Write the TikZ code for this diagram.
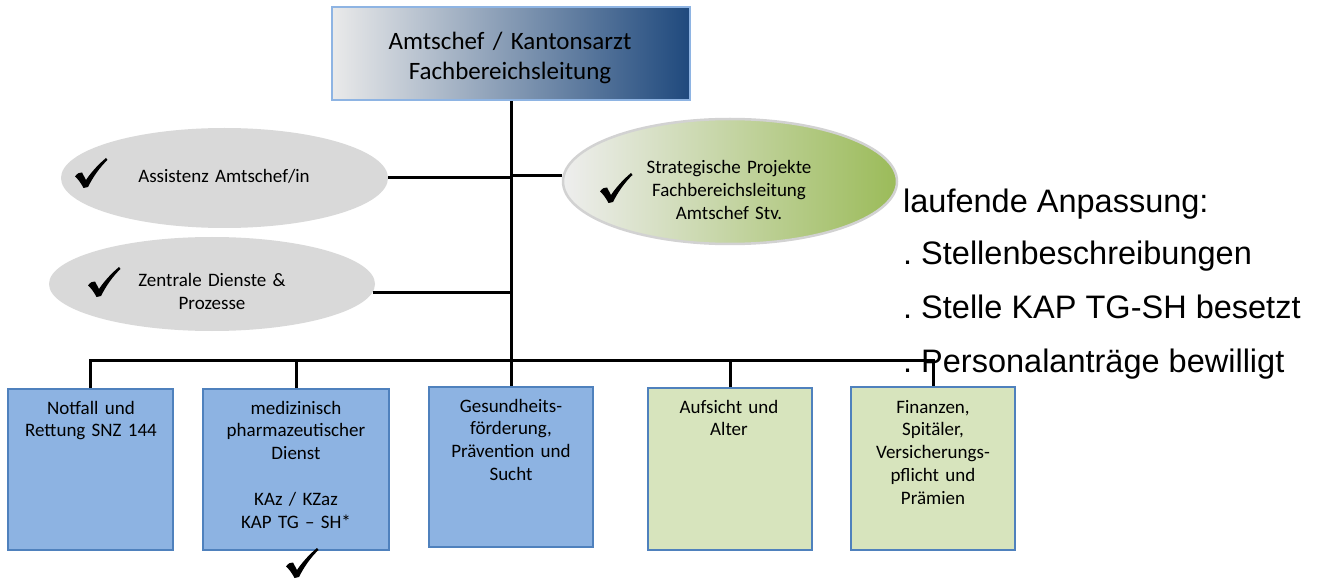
\documentclass[tikz,border=0pt]{standalone}
\usepackage{fontspec}
\setmainfont{Carlito}
\newfontfamily\arialf{Liberation Sans}
\usetikzlibrary{shapes.geometric}
\frenchspacing
\definecolor{boxblue}{RGB}{141,179,226}
\definecolor{boxborder}{RGB}{79,129,189}
\definecolor{boxgreen}{RGB}{215,228,189}
\definecolor{ellgrey}{RGB}{217,217,217}
\definecolor{topdark}{RGB}{31,73,125}
\definecolor{topmid}{RGB}{170,180,196}
\definecolor{toplight}{RGB}{234,234,234}
\definecolor{topborder}{RGB}{142,180,227}
\definecolor{stratgreen}{RGB}{155,187,89}
\definecolor{stratmid}{RGB}{208,212,198}
\definecolor{stratlight}{RGB}{238,238,238}
\definecolor{stratborder}{RGB}{210,210,210}
\begin{document}
\begin{tikzpicture}[x=1pt,y=-1pt,
  conn/.style={line width=3pt, black},
  orgbox/.style={rectangle, draw=boxborder, line width=1.3pt, inner sep=0pt},
  bluebox/.style={orgbox, fill=boxblue},
  greenbox/.style={orgbox, fill=boxgreen},
  greyell/.style={ellipse, fill=ellgrey, inner sep=0pt},
  btxt/.style={anchor=base, inner sep=0pt, align=center, font=\fontsize{19}{22.8}\selectfont},
  rtxt/.style={anchor=base west, inner sep=0pt, font=\arialf\fontsize{32.5}{39}\selectfont},
  tickmark/.pic={\fill[black] (-16,3.5) .. controls (-14,0.5) and (-11,-1) .. (-9,-0.5) -- (-5,7)
      .. controls (1,-2) and (9,-10) .. (15,-15) -- (16.5,-13)
      .. controls (9,-6) and (2,4) .. (-3,14) -- (-7.5,15)
      .. controls (-10,10) and (-13,6) .. (-16,3.5) -- cycle;}
]
\useasboundingbox (0,0) rectangle (1323,580);
\fill[white] (0,0) rectangle (1323,580);

% top box
\node[rectangle, draw=topborder, line width=2pt, left color=toplight, middle color=topmid, right color=topdark,
      minimum width=358, minimum height=93, inner sep=0pt] (top) at (511,54) {};
\node[anchor=base, inner sep=0pt, align=center, text width=340, font=\fontsize{25}{30}\selectfont] (toptxt) at (510,50)
  {Amtschef / Kantonsarzt\\Fachbereichsleitung};

% ellipses
\node[greyell, minimum width=327, minimum height=100] (e1) at (224.5,178) {};
\node[greyell, minimum width=326, minimum height=94] (e2) at (212,284) {};
\node[ellipse, draw=stratborder, line width=2.5pt, left color=stratlight, middle color=stratmid, right color=stratgreen,
      minimum width=334, minimum height=125, inner sep=0pt] (e3) at (730,181.5) {};

\node[btxt, text width=250] (e1t) at (224,183) {Assistenz Amtschef/in};
\node[btxt, text width=250] (e2t) at (212,287) {Zentrale Dienste \&\\Prozesse};
\node[btxt, text width=250] (e3t) at (729,174) {Strategische Projekte\\Fachbereichsleitung\\Amtschef Stv.};

\pic (c1) at (91,173) {tickmark};
\pic (c2) at (104,282) {tickmark};
\pic (c3) at (616,188) {tickmark};

% boxes
\node[bluebox, minimum width=165, minimum height=161] (b1) at (90.5,469.5) {};
\node[bluebox, minimum width=186, minimum height=161] (b2) at (296,469.5) {};
\node[bluebox, minimum width=164, minimum height=160] (b3) at (511,467) {};
\node[greenbox, minimum width=164, minimum height=162] (b4) at (730,469) {};
\node[greenbox, minimum width=164, minimum height=163] (b5) at (933,468.5) {};

\node[btxt, text width=155] (b1t) at (91,414) {Notfall und\\Rettung SNZ 144};
\node[btxt, text width=176] (b2t) at (296,414) {medizinisch\\pharmazeutischer\\Dienst\\[22.8pt]KAz / KZaz\\KAP TG – SH*};
\node[btxt, text width=155] (b3t) at (511,412) {Gesundheits-\\förderung,\\Prävention und\\Sucht};
\node[btxt, text width=155] (b4t) at (729,413) {Aufsicht und\\Alter};
\node[btxt, text width=155] (b5t) at (933,413) {Finanzen,\\Spitäler,\\Versicherungs-\\pflicht und\\Prämien};

\pic (c4) at (302,563) {tickmark};

% right text
\node[rtxt] (r1) at (903,212.5) {laufende Anpassung:};
\node[rtxt] (r2) at (903,265) {. Stellenbeschreibungen};
\node[rtxt] (r3) at (903,318) {. Stelle KAP TG-SH besetzt};
\node[rtxt] (r4) at (903,372) {. Personalanträge bewilligt};

% connectors
\coordinate (bus) at (511,360);
\draw[conn] (top.south) -- (b3.north);
\draw[conn] (b1.north) -- (b1.north |- bus) -- (b5.north |- bus) -- (b5.north);
\draw[conn] (b2.north) -- (b2.north |- bus);
\draw[conn] (b4.north) -- (b4.north |- bus);
\draw[conn] (e1.east) -- (e1.east -| top.south);
\draw[conn] (e2.-3) -- (e2.-3 -| top.south);
\draw[conn] (e3.178 -| top.south) -- (e3.178);
\end{tikzpicture}
\end{document}
